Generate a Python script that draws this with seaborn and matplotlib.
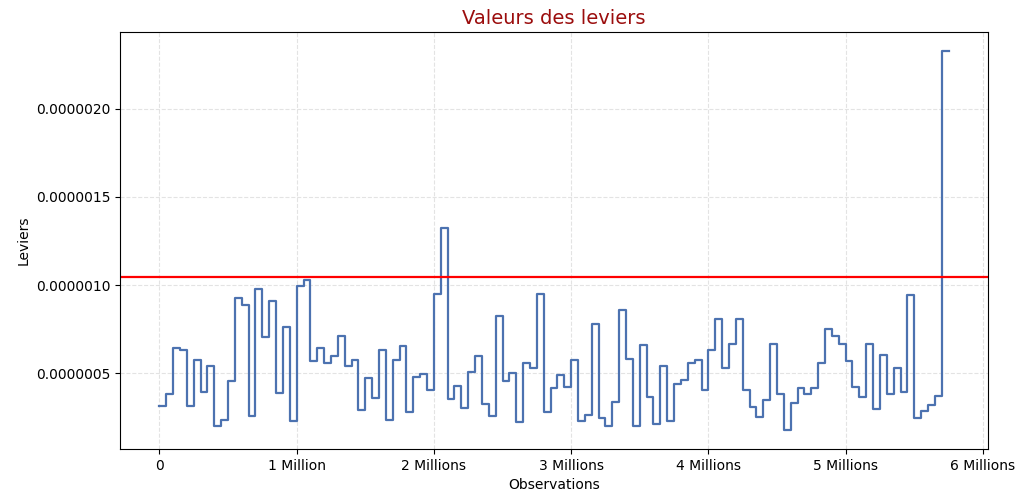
import numpy as np
import pandas as pd
import seaborn as sns
import matplotlib
matplotlib.use("Agg")
import matplotlib.pyplot as plt
from matplotlib.ticker import FuncFormatter, MultipleLocator

# leverage values per block of observations (x 1e-6)
bin_size = 50000
leviers = [
    0.313, 0.379, 0.640, 0.632, 0.315, 0.577, 0.392, 0.541, 0.202, 0.236,
    0.458, 0.929, 0.889, 0.256, 0.979, 0.704, 0.910, 0.389, 0.762, 0.226,
    0.995, 1.027, 0.570, 0.643, 0.558, 0.598, 0.708, 0.540, 0.574, 0.290,
    0.475, 0.358, 0.630, 0.237, 0.574, 0.653, 0.281, 0.479, 0.496, 0.404,
    0.951, 1.325, 0.356, 0.426, 0.300, 0.504, 0.596, 0.324, 0.256, 0.825,
    0.456, 0.502, 0.224, 0.560, 0.530, 0.951, 0.281, 0.413, 0.490, 0.419,
    0.572, 0.228, 0.262, 0.776, 0.243, 0.202, 0.338, 0.857, 0.583, 0.202,
    0.657, 0.366, 0.209, 0.543, 0.228, 0.441, 0.460, 0.560, 0.572, 0.407,
    0.630, 0.810, 0.530, 0.666, 0.810, 0.402, 0.307, 0.249, 0.345, 0.666,
    0.383, 0.177, 0.328, 0.413, 0.379, 0.413, 0.558, 0.750, 0.712, 0.664,
    0.568, 0.423, 0.364, 0.666, 0.294, 0.602, 0.379, 0.532, 0.394, 0.942,
    0.243, 0.283, 0.322, 0.370, 2.327,
]
seuil = 1.045e-6

vals = np.array(leviers) * 1e-6
df = pd.DataFrame({
    "Observations": np.arange(len(vals) + 1) * bin_size,
    "Leviers": np.append(vals, vals[-1]),
})

fig = plt.figure(figsize=(10.21, 4.94), dpi=100)
ax = fig.add_axes([0.1175, 0.091, 0.8502, 0.844])

sns.lineplot(data=df, x="Observations", y="Leviers", drawstyle="steps-post",
             estimator=None, color="#4C72B0", linewidth=1.6, ax=ax)
ax.axhline(seuil, color="red", linewidth=1.6)

ax.grid(True, linestyle="--", color="#dddddd", linewidth=0.8, alpha=0.8)
ax.set_axisbelow(True)


def fmt_millions(x, pos):
    m = int(round(x / 1e6))
    if m == 0:
        return "0"
    return f"{m} Million" if m == 1 else f"{m} Millions"


ax.xaxis.set_major_locator(MultipleLocator(1e6))
ax.xaxis.set_major_formatter(FuncFormatter(fmt_millions))
ax.yaxis.set_major_locator(MultipleLocator(0.5e-6))
ax.yaxis.set_major_formatter(FuncFormatter(lambda y, pos: f"{y:.7f}"))

ax.set_title("Valeurs des leviers", color="#9b0d0d", fontsize=14)
ax.set_xlabel("Observations")
ax.set_ylabel("Leviers")

fig.savefig("out.png", dpi=100)
